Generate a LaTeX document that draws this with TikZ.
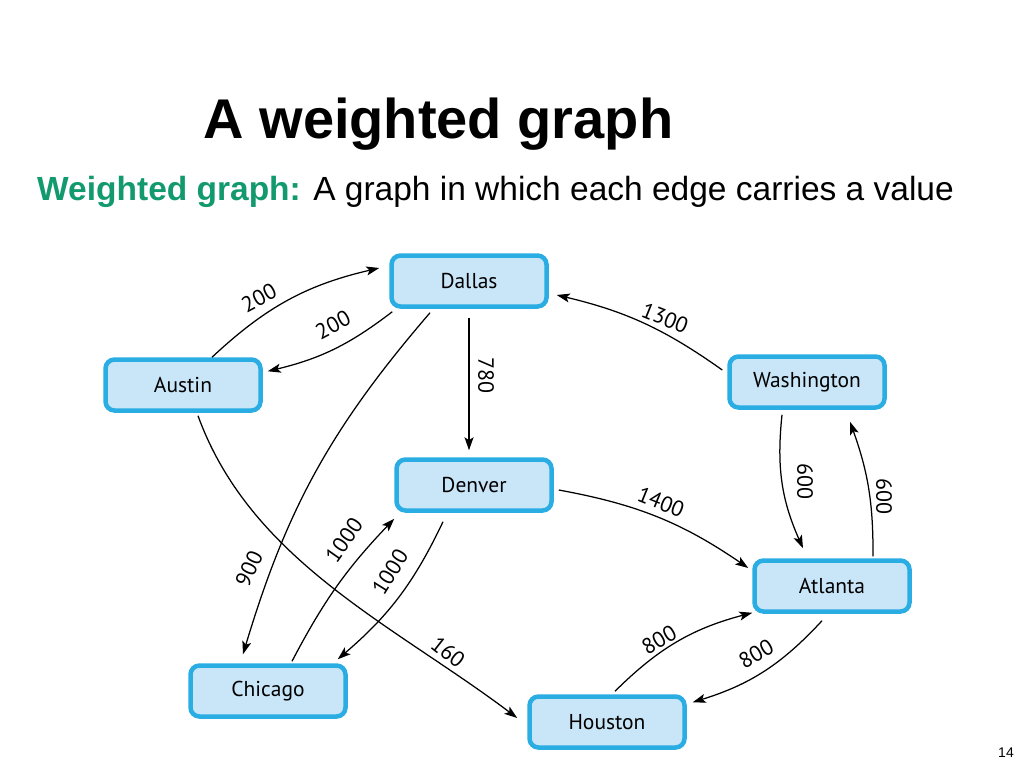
\documentclass[tikz,border=0pt]{standalone}
\usepackage{fontspec}
\setmainfont{Liberation Sans}
\newfontfamily\nodefont{PT Sans}
\usetikzlibrary{arrows.meta}
\definecolor{boxfill}{HTML}{C9E5F8}
\definecolor{boxline}{HTML}{2AADE3}
\definecolor{titlegreen}{HTML}{129A6E}
\begin{document}
\begin{tikzpicture}[x=1pt,y=-1pt,
  city/.style={draw=boxline, fill=boxfill, line width=4.5pt, rounded corners=9pt,
    minimum width=155pt, minimum height=51pt, inner sep=0pt,
    font=\nodefont\fontsize{21.5}{24}\selectfont},
  lbl/.style={font=\nodefont\fontsize{22}{24}\selectfont, inner sep=0pt},
  edge/.style={line width=1.25pt, -{Stealth[length=13pt,width=9pt,inset=3pt]}}]
\useasboundingbox (0,0) rectangle (1024,768);
\node[anchor=base west, font=\bfseries\fontsize{56}{60}\selectfont] (title) at (200,138) {A weighted graph};
\node[anchor=base west, font=\fontsize{33.5}{38}\selectfont, inner sep=0pt] (sub) at (37,200)
  {\textcolor{titlegreen}{\bfseries Weighted graph:} A graph in which each edge carries a value};
\node[anchor=base east, font=\fontsize{14}{16}\selectfont, inner sep=0pt] (pg) at (1014,757) {14};

\node[city] (dallas) at (469,281) {Dallas};
\node[city] (austin) at (183,385) {Austin};
\node[city] (wash) at (807,382) {Washington};
\node[city] (denver) at (474,485) {Denver};
\node[city] (atlanta) at (832,586) {Atlanta};
\node[city] (chicago) at (268,691) {Chicago};
\node[city] (houston) at (607,722) {Houston};

% Austin -> Dallas
\draw[edge] ([xshift=29pt]austin.north) to[bend left=15] ([xshift=-10pt,yshift=13pt]dallas.west);
% Dallas -> Austin
\draw[edge] ([xshift=3pt,yshift=-3pt]dallas.south west) to[bend left=12] ([xshift=5pt,yshift=-14pt]austin.north east);
% Dallas -> Denver
\draw[edge] ([yshift=-9pt]dallas.south) -- ([xshift=-5pt,yshift=7pt]denver.north);
% Washington -> Dallas
\draw[edge] ([xshift=-5pt,yshift=12pt]wash.west) to[bend right=11] ([xshift=8pt,yshift=-14pt]dallas.east);
% Washington -> Atlanta
\draw[edge] ([xshift=-25pt,yshift=-5pt]wash.south) to[bend right=15] ([xshift=-29pt,yshift=10pt]atlanta.north);
% Atlanta -> Washington
\draw[edge] ([xshift=41pt,yshift=2pt]atlanta.north) to[bend right=10] ([xshift=43pt,yshift=-12pt]wash.south);
% Denver -> Atlanta
\draw[edge] ([xshift=5pt,yshift=-5pt]denver.east) to[bend left=12] ([xshift=-4pt,yshift=18pt]atlanta.west);
% Dallas -> Chicago
\draw[edge] ([xshift=-39pt,yshift=-4pt]dallas.south) to[bend right=12] ([xshift=-25pt,yshift=9pt]chicago.north);
% Chicago -> Denver
\draw[edge] ([xshift=24pt,yshift=2pt]chicago.north) to[bend left=8] ([yshift=-6pt]denver.south west);
% Denver -> Chicago
\draw[edge] ([xshift=-31pt,yshift=-9pt]denver.south) to[bend left=12] ([xshift=-10pt,yshift=4pt]chicago.north east);
% Austin -> Houston
\draw[edge] ([xshift=15pt,yshift=-3pt]austin.south) to[out=-70,in=143,looseness=0.9] ([xshift=-10pt,yshift=4pt]houston.west);
% Houston -> Atlanta
\draw[edge] ([xshift=8pt,yshift=3pt]houston.north) to[bend left=15] ([yshift=1pt]atlanta.south west);
% Atlanta -> Houston
\draw[edge] ([xshift=-10pt,yshift=-7pt]atlanta.south) to[bend left=15] ([xshift=6pt,yshift=-8pt]houston.north east);

% labels
\node[lbl, rotate=28] (l1) at (259,298) {200};
\node[lbl, rotate=28] (l2) at (333,325) {200};
\node[lbl, rotate=-90] (l3) at (486,375) {780};
\node[lbl, rotate=-22] (l4) at (665,318) {1300};
\node[lbl, rotate=-90] (l5) at (805,481) {600};
\node[lbl, rotate=-90] (l6) at (884,496) {600};
\node[lbl, rotate=-22] (l7) at (661,502) {1400};
\node[lbl, rotate=65] (l8) at (249,569) {900};
\node[lbl, rotate=55] (l9) at (344,540) {1000};
\node[lbl, rotate=58] (l10) at (390,572) {1000};
\node[lbl, rotate=-38] (l11) at (448,652) {160};
\node[lbl, rotate=30] (l12) at (659,640) {800};
\node[lbl, rotate=30] (l13) at (756,654) {800};
\end{tikzpicture}
\end{document}
